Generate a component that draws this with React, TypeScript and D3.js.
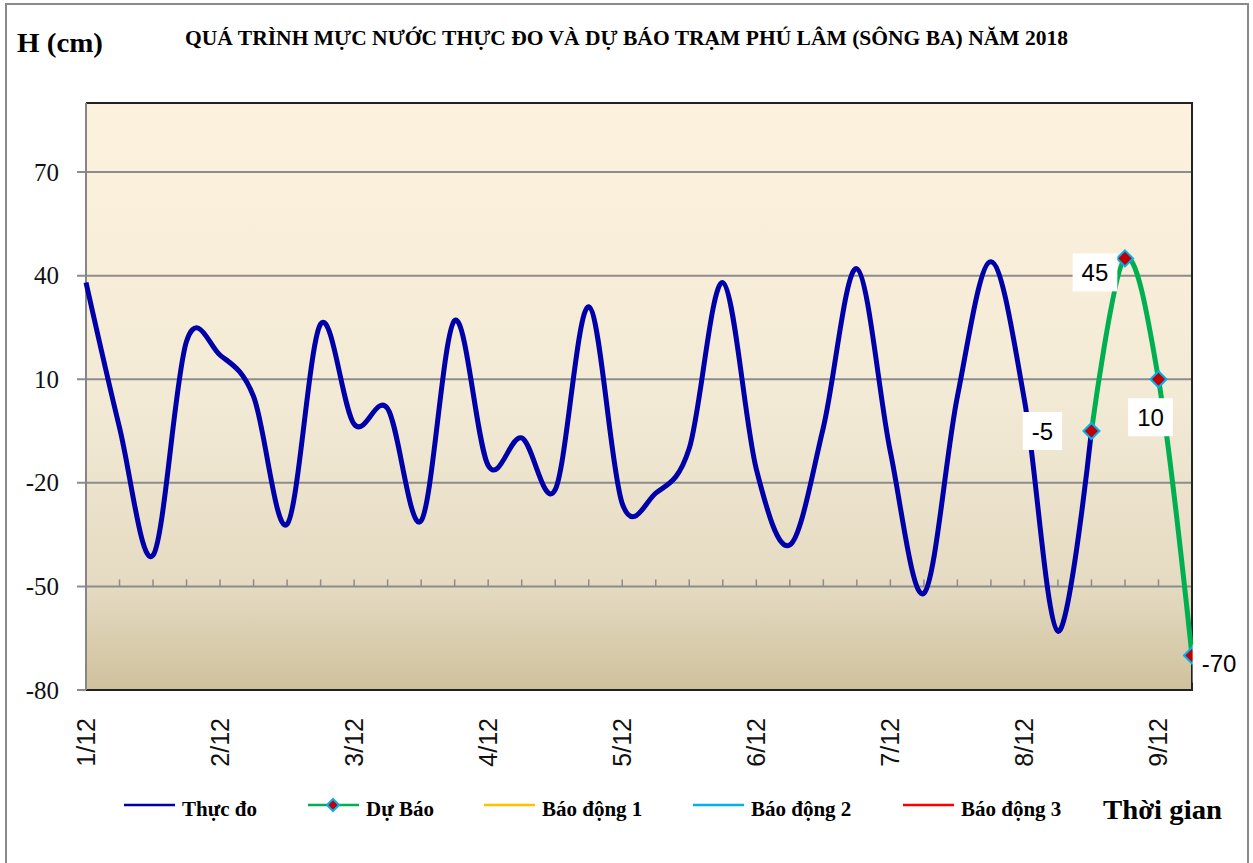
import React from 'react';
import * as d3 from 'd3';

// 4 observations per day (6-hourly), labels on the first slot of each day
const days = ['1/12', '2/12', '3/12', '4/12', '5/12', '6/12', '7/12', '8/12', '9/12'];
const slotsPerDay = 4;
const slotCount = 34;

// measured water level (Thực đo), slots 0..30
const observed = [
  38, -4, -41, 21, 17, 5, -32, 26, -3, 1.5, -31, 27, -15, -7, -22, 31,
  -26, -23, -10, 38, -16, -38, -4, 42, -11, -52, 5, 44, 4, -63, -5,
];

// forecast (Dự Báo), starts at slot 30
const forecastStart = 30;
const forecast = [-5, 45, 10, -70];

const yTicks = [-80, -50, -20, 10, 40, 70];

// where each forecast label sits relative to its marker
const labelOffsets = [[-49, 0], [-30, 14], [-8, 38], [27, 8]];

const legendItems = [
  { name: 'Thực đo', color: '#0000A8', marker: false },
  { name: 'Dự Báo', color: '#00B050', marker: true },
  { name: 'Báo động 1', color: '#FFC000', marker: false },
  { name: 'Báo động 2', color: '#00B0F0', marker: false },
  { name: 'Báo động 3', color: '#FF0000', marker: false },
];
const legendX = [124, 308, 484, 693, 903];

const W = 1253;
const H = 863;
const plot = { left: 86, top: 103, right: 1192, bottom: 690 };

const serif = "'Liberation Serif', 'Times New Roman', serif";
const sans = "'Liberation Sans', Arial, sans-serif";

const labelWidth = (s: string) =>
  s.split('').reduce((w, c) => w + (c === '-' ? 0.333 : 0.556) * 24, 0);

const diamond = (cx: number, cy: number, r: number) =>
  `M${cx},${cy - r}L${cx + r},${cy}L${cx},${cy + r}L${cx - r},${cy}Z`;

export default function App() {
  const x = d3.scaleLinear().domain([0, slotCount - 1]).range([plot.left, plot.right]);
  const y = d3.scaleLinear().domain([-80, 90]).range([plot.bottom, plot.top]);

  const line = d3
    .line<[number, number]>()
    .x(d => x(d[0]))
    .y(d => y(d[1]))
    .curve(d3.curveCardinal.tension(0));

  const obsPts: [number, number][] = observed.map((v, i) => [i, v]);
  const fcPts: [number, number][] = forecast.map((v, i) => [forecastStart + i, v]);
  const slots = d3.range(slotCount);

  return (
    <svg
      width={W}
      height={H}
      style={{ position: 'absolute', left: 0, top: 0, background: '#fff' }}
    >
      <defs>
        <linearGradient id="bg" x1="0" y1="0" x2="0" y2="1">
          <stop offset="0" stopColor="#FDF2DE" />
          <stop offset="0.5" stopColor="#F3EAD6" />
          <stop offset="0.82" stopColor="#E5DBC2" />
          <stop offset="1" stopColor="#CFC19D" />
        </linearGradient>
      </defs>

      {/* chart border */}
      <rect x={6} y={4} width={1242} height={880} fill="none" stroke="#8a8a8a" strokeWidth={2} />

      {/* titles */}
      <text x={17} y={52} fontFamily={serif} fontWeight="bold" fontSize={28} textLength={86} lengthAdjust="spacingAndGlyphs">
        H (cm)
      </text>
      <text x={185} y={45} fontFamily={serif} fontWeight="bold" fontSize={21} textLength={883} lengthAdjust="spacingAndGlyphs">
        QUÁ TRÌNH MỰC NƯỚC THỰC ĐO VÀ DỰ BÁO TRẠM PHÚ LÂM (SÔNG BA) NĂM 2018
      </text>

      {/* plot area */}
      <rect x={plot.left} y={plot.top} width={plot.right - plot.left} height={plot.bottom - plot.top} fill="url(#bg)" />

      {/* gridlines */}
      {yTicks.map(t => (
        <line key={'g' + t} x1={plot.left - 9} x2={plot.right} y1={y(t)} y2={y(t)} stroke="#8c8c8c" strokeWidth={2} />
      ))}

      {/* category axis crossing at -50, ticks pointing up */}
      {slots.map(i => (
        <line key={'t' + i} x1={x(i)} x2={x(i)} y1={y(-50)} y2={y(-50) - 7} stroke="#8c8c8c" strokeWidth={1.5} />
      ))}

      {/* plot border */}
      <path
        d={`M${plot.left},${plot.top}H${plot.right}V${plot.bottom}H${plot.left}`}
        fill="none"
        stroke="#222"
        strokeWidth={2}
      />
      <line x1={plot.left} x2={plot.left} y1={plot.top} y2={plot.bottom} stroke="#868686" strokeWidth={2} />

      {/* y tick labels */}
      {yTicks.map(t => (
        <text key={'yl' + t} x={59} y={y(t)} textAnchor="end" dominantBaseline="central" fontFamily={serif} fontSize={25} fill="#111">
          {t}
        </text>
      ))}

      {/* x labels */}
      {days.map((d, k) => {
        const px = x(k * slotsPerDay);
        return (
          <text
            key={'xl' + d}
            transform={`translate(${px},718) rotate(-90)`}
            textAnchor="end"
            dominantBaseline="central"
            fontFamily={sans}
            fontSize={25}
            fill="#111"
          >
            {d}
          </text>
        );
      })}

      {/* series */}
      <path d={line(obsPts) || ''} fill="none" stroke="#0000A8" strokeWidth={5} strokeLinejoin="round" />
      <path d={line(fcPts) || ''} fill="none" stroke="#00B050" strokeWidth={5} strokeLinejoin="round" />
      {fcPts.map(([i, v]) => (
        <path key={'m' + i} d={diamond(x(i), y(v), 8)} fill="#C00000" stroke="#00B0F0" strokeWidth={2} />
      ))}

      {/* forecast labels */}
      {fcPts.map(([i, v], k) => {
        const s = String(v);
        const cx = x(i) + labelOffsets[k][0];
        const cy = y(v) + labelOffsets[k][1];
        const w = labelWidth(s) + 18;
        return (
          <g key={'lb' + i}>
            <rect x={cx - w / 2} y={cy - 19} width={w} height={38} fill="#fff" />
            <text x={cx} y={cy} textAnchor="middle" dominantBaseline="central" fontFamily={sans} fontSize={24} fill="#000">
              {s}
            </text>
          </g>
        );
      })}

      {/* legend */}
      {legendItems.map((it, k) => {
        const lx = legendX[k];
        return (
          <g key={'lg' + it.name}>
            <line x1={lx} x2={lx + 51} y1={805} y2={805} stroke={it.color} strokeWidth={2.5} />
            {it.marker && <path d={diamond(lx + 25, 805, 6)} fill="#C00000" stroke="#00B0F0" strokeWidth={2} />}
            <text x={lx + 58} y={816} fontFamily={serif} fontWeight="bold" fontSize={21} fill="#000">
              {it.name}
            </text>
          </g>
        );
      })}
      <text x={1103} y={819} fontFamily={serif} fontWeight="bold" fontSize={28} textLength={119} lengthAdjust="spacingAndGlyphs">
        Thời gian
      </text>
    </svg>
  );
}
